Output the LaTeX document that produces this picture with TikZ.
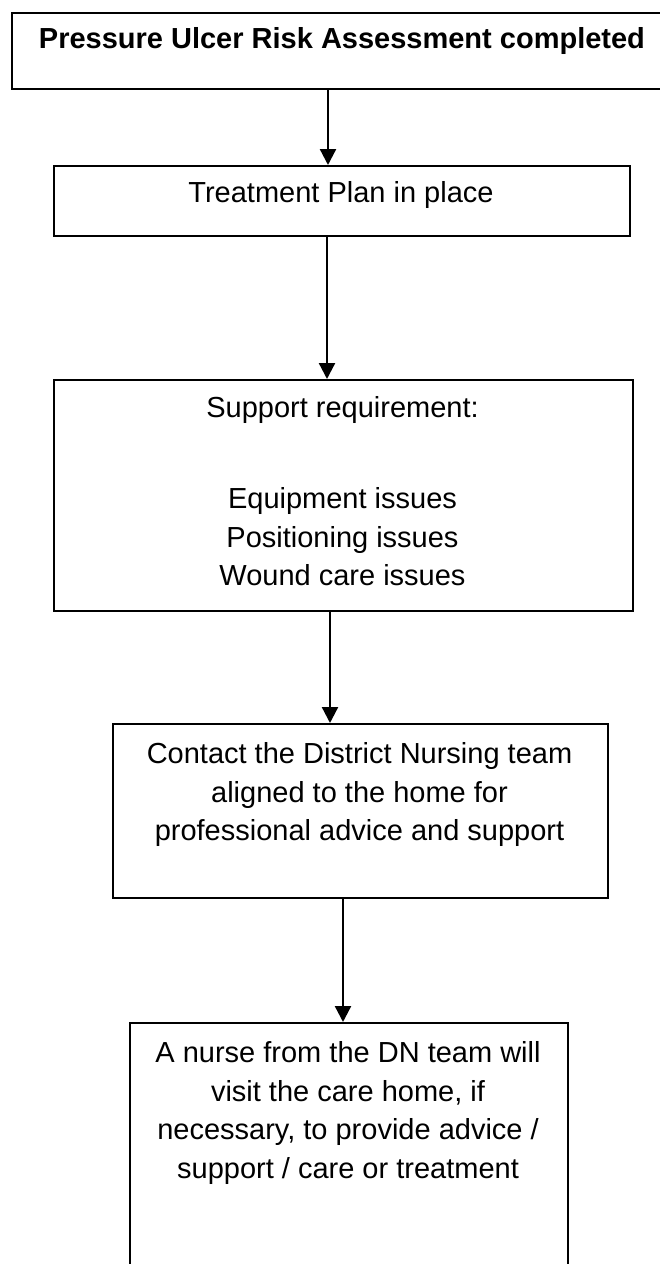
\documentclass[tikz,border=0pt]{standalone}
\usepackage{fontspec}
\setmainfont{Liberation Sans}
\usetikzlibrary{arrows.meta,calc}
\begin{document}
\begin{tikzpicture}[x=1pt,y=-1pt,
  box/.style={draw=black,line width=1.8pt,rectangle,inner sep=0pt,anchor=north west},
  txt/.style={font=\fontsize{29}{38.5}\selectfont,align=center,inner sep=0pt,anchor=north},
  arr/.style={line width=2.3pt,-{Triangle[width=16pt,length=16pt]}}]
\useasboundingbox (0,0) rectangle (659,1264);
% boxes
\node[box,minimum width=720pt,minimum height=76pt] (b1) at (11,12) {};
\node[box,minimum width=576pt,minimum height=70pt] (b2) at (53,165) {};
\node[box,minimum width=579pt,minimum height=231pt] (b3) at (53,379) {};
\node[box,minimum width=495pt,minimum height=174pt] (b4) at (112,723) {};
\node[box,minimum width=438pt,minimum height=280pt] (b5) at (129,1022) {};
% texts
\node[txt] (t1) at (342,27.5) {\bfseries Pressure Ulcer Risk Assessment completed};
\node[txt] (t2) at (341,181.5) {Treatment Plan in place};
\node[txt] (t3) at (342.5,396.5) {Support requirement:\\[52.5pt]Equipment issues\\Positioning issues\\Wound care issues};
\node[txt] (t4) at (359.5,742.5) {Contact the District Nursing team\\aligned to the home for\\professional advice and support};
\node[txt] (t5) at (348,1041.5) {A nurse from the DN team will\\visit the care home, if\\necessary, to provide advice /\\support / care or treatment};
% connector x positions
\coordinate (a1) at (328,0);
\coordinate (a2) at (327,0);
\coordinate (a3) at (330,0);
\coordinate (a4) at (343,0);
\draw[arr] (b1.south -| a1) -- (b2.north -| a1);
\draw[arr] (b2.south -| a2) -- (b3.north -| a2);
\draw[arr] (b3.south -| a3) -- (b4.north -| a3);
\draw[arr] (b4.south -| a4) -- (b5.north -| a4);
\end{tikzpicture}
\end{document}
